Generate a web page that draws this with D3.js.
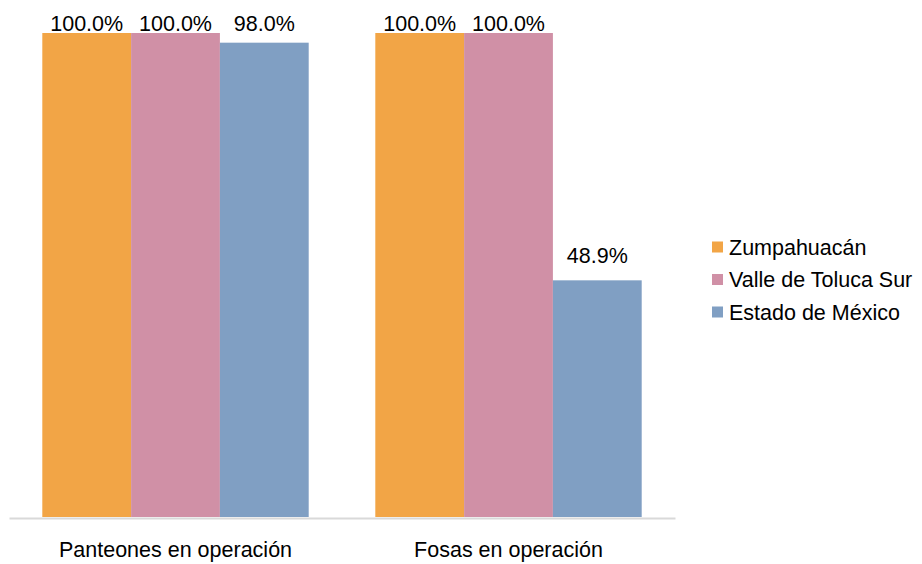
<!DOCTYPE html>
<html>
<head>
<meta charset="utf-8">
<script src="https://cdn.jsdelivr.net/npm/d3@7"></script>
<style>
  body { margin: 0; background: #fff; }
  text { font-family: "Liberation Sans", Arial, sans-serif; fill: #000; }
</style>
</head>
<body>
<svg id="chart" width="922" height="564"></svg>
<script>
//
// Data
//
const categories = ['Panteones en operación', 'Fosas en operación'];
const seriesNames = ['Zumpahuacán', 'Valle de Toluca Sur', 'Estado de México'];
const zumpahuacan = [1.0, 1.0];
const valleToluca = [1.0, 1.0];
const estado = [0.98, 0.489];
const colors = ['#F2A546', '#D090A6', '#809FC3'];

//
// Layout
//
const svg = d3.select('#chart');
const plot = {left: 9, right: 675, top: 33, bottom: 517};
const fontSize = 21.5;

const x0 = d3.scaleBand()
    .domain(categories)
    .range([plot.left, plot.right])
    .paddingInner(0.2)
    .paddingOuter(0.1);

const x1 = d3.scaleBand()
    .domain(seriesNames)
    .range([0, x0.bandwidth()]);

const y = d3.scaleLinear()
    .domain([0, 1])
    .range([plot.bottom, plot.top]);

const fmt = d3.format('.1%');

const rows = categories.map((c, i) => ({
  category: c,
  values: [zumpahuacan[i], valleToluca[i], estado[i]]
}));

//
// Bars
//
const groups = svg.selectAll('g.group')
    .data(rows)
    .join('g')
    .attr('class', 'group')
    .attr('transform', d => `translate(${x0(d.category)},0)`);

groups.selectAll('rect')
    .data(d => d.values.map((v, k) => ({name: seriesNames[k], value: v, k})))
    .join('rect')
    .attr('x', d => x1(d.name))
    .attr('y', d => y(d.value))
    .attr('width', x1.bandwidth())
    .attr('height', d => y(0) - y(d.value))
    .attr('fill', d => colors[d.k]);

// value labels, kept inside the chart area at the top
groups.selectAll('text.value')
    .data(d => d.values.map((v, k) => ({name: seriesNames[k], value: v})))
    .join('text')
    .attr('class', 'value')
    .attr('x', d => x1(d.name) + x1.bandwidth() / 2)
    .attr('y', d => Math.max(y(d.value) - 17, 30.5))
    .attr('text-anchor', 'middle')
    .style('font-size', fontSize + 'px')
    .text(d => fmt(d.value));

//
// Axis
//
const xAxis = svg.append('g')
    .attr('transform', `translate(0,${plot.bottom + 1})`)
    .call(d3.axisBottom(x0).tickSize(0).tickPadding(24));

xAxis.select('.domain')
    .attr('stroke', '#D9D9D9')
    .attr('stroke-width', 2);

xAxis.selectAll('.tick text')
    .style('font-size', fontSize + 'px')
    .style('font-family', '"Liberation Sans", Arial, sans-serif')
    .attr('fill', '#000');

//
// Legend
//
const legend = svg.append('g')
    .attr('transform', 'translate(712,247)');

const item = legend.selectAll('g')
    .data(seriesNames)
    .join('g')
    .attr('transform', (d, i) => `translate(0,${i * 32.5})`);

item.append('rect')
    .attr('x', 0)
    .attr('y', -5.5)
    .attr('width', 11)
    .attr('height', 11)
    .attr('fill', (d, i) => colors[i]);

item.append('text')
    .attr('x', 17)
    .attr('y', 0)
    .attr('dy', '0.35em')
    .style('font-size', fontSize + 'px')
    .text(d => d);
</script>
</body>
</html>
